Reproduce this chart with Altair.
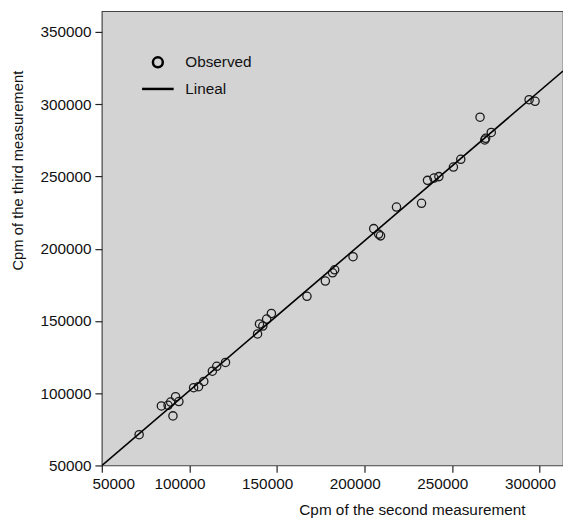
import altair as alt
import pandas as pd

# Cpm values
cpm_second = [71300, 84000, 87800, 89300, 92100, 94000, 90600, 102400, 105200, 108200,
              113100, 115600, 120600, 138900, 140000, 141900, 144100, 146800, 167100, 177600,
              181700, 182900, 193400, 205200, 208000, 209100, 218200, 232500, 235900, 239600,
              242400, 250700, 254900, 265900, 268600, 269100, 272300, 293900, 297300]
cpm_third = [71300, 91150, 91600, 93900, 97600, 94200, 84300, 103800, 104500, 108100,
             115200, 118600, 121300, 141000, 147900, 146500, 151300, 155200, 167100, 177600,
             183300, 185400, 194500, 213900, 210100, 208900, 228800, 231400, 247300, 248900,
             249900, 256500, 261900, 291000, 275300, 276400, 280500, 303100, 302000]
legend_labels = ["Observed", "Lineal"]
x_ticks = [50000, 100000, 150000, 200000, 250000, 300000]
y_ticks = [50000, 100000, 150000, 200000, 250000, 300000, 350000]

df = pd.DataFrame({
    "second": cpm_second,
    "third": cpm_third,
    "series": [legend_labels[0]] * len(cpm_second),
})

FONT = "Liberation Sans"
FS = 15.5
X_DOMAIN = [50000, 313250]
Y_DOMAIN = [50000, 364400]

x_scale = alt.Scale(domain=X_DOMAIN, nice=False, zero=False)
y_scale = alt.Scale(domain=Y_DOMAIN, nice=False, zero=False)

x_enc = alt.X(
    "second:Q", scale=x_scale,
    axis=alt.Axis(values=x_ticks, format="d", title="Cpm of the second measurement",
                  titleX=314, titleY=50, titleAlign="center", titleBaseline="alphabetic",
                  labelOffset=-10),
)
y_enc = alt.Y(
    "third:Q", scale=y_scale,
    axis=alt.Axis(values=y_ticks, format="d", title="Cpm of the third measurement",
                  titleX=-85, titleY=161, titleAlign="center", titleBaseline="middle",
                  titleFontSize=15),
)

points = alt.Chart(df).mark_point(
    filled=False, color="#1a1a1a", size=70, strokeWidth=1.3, opacity=1
).encode(
    x=x_enc,
    y=y_enc,
    shape=alt.Shape(
        "series:N",
        scale=alt.Scale(domain=legend_labels, range=["circle", "M-3.2,0L3.2,0"]),
        legend=alt.Legend(
            title=None, orient="none", legendX=49, legendY=44, padding=0,
            symbolSize=100, symbolStrokeWidth=2.5, symbolStrokeColor="black",
            symbolFillColor="transparent", symbolOpacity=1,
            labelFont=FONT, labelFontSize=FS, labelColor="#111", labelOffset=20,
            rowPadding=9,
        ),
    ),
)

line = alt.Chart(df).transform_regression(
    "second", "third", extent=X_DOMAIN
).mark_line(color="black", strokeWidth=1.6, clip=True).encode(
    x=alt.X("second:Q", scale=x_scale),
    y=alt.Y("third:Q", scale=y_scale),
)

chart = alt.layer(points, line).properties(
    width=467,
    height=460,
    autosize=alt.AutoSizeParams(type="none"),
    padding={"left": 95, "top": 0, "right": 0, "bottom": 50},
    background="white",
).configure_view(
    fill="#d3d3d3", stroke="#444", strokeWidth=1.2
).configure_axis(
    grid=False, domain=False, tickColor="#222", tickSize=7, tickWidth=1.2,
    labelFont=FONT, labelFontSize=FS, labelColor="#111", labelPadding=4,
    titleFont=FONT, titleFontSize=FS, titleFontWeight="normal", titleColor="#111",
)

chart.save("out.html", embed_options={"renderer": "svg", "actions": False})
